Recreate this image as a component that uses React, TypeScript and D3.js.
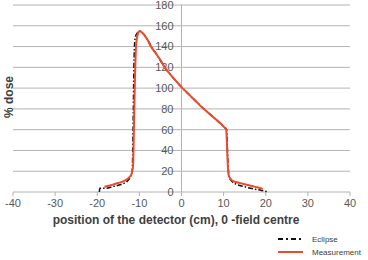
import React from "react";
import * as d3 from "d3";

const xTicks = [-40, -30, -20, -10, 0, 10, 20, 30, 40];
const yTicks = [0, 20, 40, 60, 80, 100, 120, 140, 160, 180];

const measX = [-18.3, -17, -16, -15, -14, -13, -12.3, -11.8, -11.5, -11.3, -11.1, -10.8, -10.5, -10.2, -10, -9, -8, -7.4, -6, -5, -4, -3, -2, -1, 0, 1, 2, 3, 4, 5, 6, 7, 8, 9, 10, 10.6, 10.8, 11, 11.2, 11.5, 12, 12.9, 14, 15, 16, 17, 18, 19.3];
const measY = [5, 6.3, 7.5, 8.7, 10, 12, 14.5, 18, 25, 60, 100, 140, 150, 154, 155, 152, 146, 141, 133, 127, 120, 115, 110, 105.5, 101, 97, 93, 89, 85, 81, 77.5, 74, 70.5, 67, 63, 60, 45, 25, 16, 13.5, 11, 9.6, 8.5, 7.5, 6.5, 5.5, 4.5, 3];

const eclX = [-19.5, -19.4, -18, -16.5, -15, -13, -12, -11.7, -11.5, -11.3, -11.1, -10.9, -10.5, -10.2, -10, -9, -8, -7, -6, -4, -2, 0, 2, 4, 6, 8, 10, 10.7, 11, 11.3, 12, 13, 15, 17, 19, 20.7];
const eclY = [0, 3.5, 3.5, 5, 6.5, 10, 16, 20, 60, 120, 145, 150, 153, 154, 155, 152, 146, 139, 133, 120, 110, 101, 93, 85, 77.5, 70.5, 63, 60, 30, 15, 10, 7.5, 5, 3, 1.5, 0];

const seriesNames = ["Eclipse", "Measurement"];

export default function App() {
  const W = 368, H = 260;
  const x = d3.scaleLinear().domain([-40, 40]).range([13, 350]);
  const y = d3.scaleLinear().domain([0, 180]).range([192, 5]);
  const line = d3.line<[number, number]>().x(d => x(d[0])).y(d => y(d[1])).curve(d3.curveMonotoneX);
  const meas: [number, number][] = measX.map((v, i) => [v, measY[i]]);
  const ecl: [number, number][] = eclX.map((v, i) => [v, eclY[i]]);
  const font = "'Liberation Sans', Arial, sans-serif";
  const red = "#ec4a2c";
  return (
    <svg width={W} height={H} style={{ position: "absolute", left: 0, top: 0, background: "#fff" }} fontFamily={font}>
      {yTicks.map(t => (
        <line key={"g" + t} x1={x(-40)} x2={x(40)} y1={y(t)} y2={y(t)} stroke="#b3b3b3" strokeWidth={1} />
      ))}
      <line x1={x(0)} x2={x(0)} y1={y(180)} y2={y(0)} stroke="#b3b3b3" strokeWidth={1} />
      {xTicks.map(t => (
        <line key={"t" + t} x1={x(t)} x2={x(t)} y1={y(0)} y2={y(0) + 4} stroke="#b3b3b3" strokeWidth={1} />
      ))}
      {yTicks.map(t => (
        <text key={"yl" + t} x={x(0) - 8} y={y(t)} dy="0.35em" textAnchor="end" fontSize={11} fill="#595959">{t}</text>
      ))}
      {xTicks.map(t => (
        <text key={"xl" + t} x={x(t)} y={207} textAnchor="middle" fontSize={11} fill="#595959">{t}</text>
      ))}
      <text transform={`translate(13,97) rotate(-90)`} textAnchor="middle" fontSize={12} fontWeight="bold" fill="#404040">% dose</text>
      <text x={176} y={224} textAnchor="middle" fontSize={12} fontWeight="bold" fill="#404040">position of the detector (cm), 0 -field centre</text>
      <path d={line(ecl) || ""} fill="none" stroke="#111" strokeWidth={1.5} strokeDasharray="5,2,1.5,2" />
      <path d={line(meas) || ""} fill="none" stroke={red} strokeWidth={2} />
      <line x1={278} x2={303} y1={239} y2={239} stroke="#111" strokeWidth={2} strokeDasharray="5,3,2,3" />
      <text x={312} y={239} dy="0.35em" fontSize={8} fill="#404040">{seriesNames[0]}</text>
      <line x1={278} x2={303} y1={252} y2={252} stroke={red} strokeWidth={2} />
      <text x={312} y={252} dy="0.35em" fontSize={8} fill="#404040">{seriesNames[1]}</text>
    </svg>
  );
}
